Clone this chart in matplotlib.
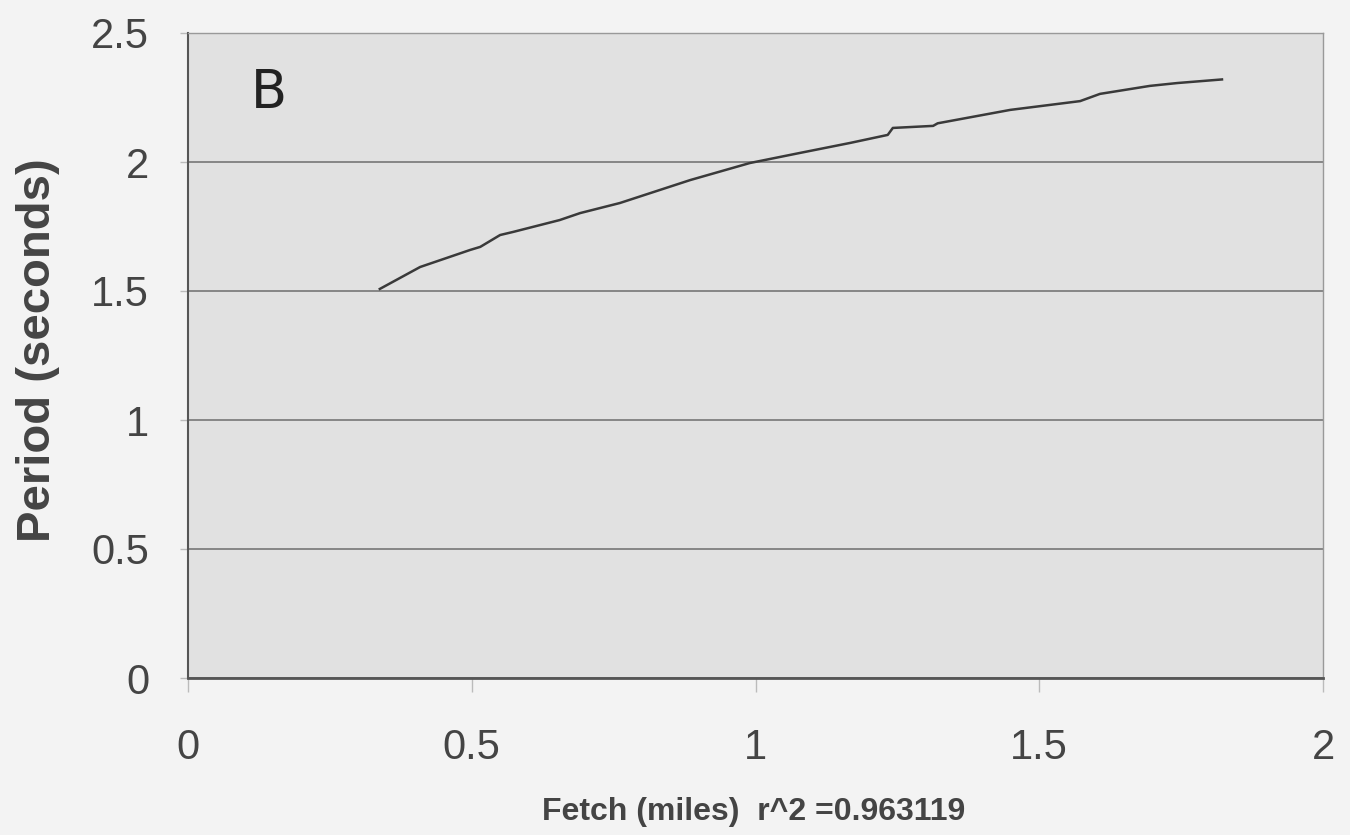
import matplotlib
matplotlib.use("Agg")
import matplotlib.pyplot as plt

# Fetch (miles) vs wave period (seconds)
fetch = [0.338, 0.409, 0.497, 0.515, 0.550, 0.573, 0.655, 0.691, 0.761, 0.885,
         0.99, 1.078, 1.167, 1.233, 1.242, 1.313, 1.321, 1.449, 1.572, 1.607,
         1.695, 1.743, 1.822]
period = [1.508, 1.593, 1.659, 1.671, 1.717, 1.729, 1.775, 1.802, 1.841, 1.93,
          1.996, 2.035, 2.074, 2.105, 2.132, 2.140, 2.150, 2.202, 2.236, 2.264,
          2.295, 2.306, 2.320]

xticks = [0, 0.5, 1, 1.5, 2]
yticks = [0, 0.5, 1, 1.5, 2, 2.5]

plt.rcParams['font.family'] = ['Liberation Sans', 'DejaVu Sans']

fig = plt.figure(figsize=(13.5, 8.35), dpi=100)
fig.patch.set_facecolor('#f3f3f3')
ax = fig.add_axes([188 / 1350, 1 - 678 / 835, 1135 / 1350, 645 / 835])
ax.set_facecolor('#e1e1e1')

ax.plot(fetch, period, color='#3a3a3a', lw=1.8)

ax.set_xlim(0, 2)
ax.set_ylim(0, 2.5)
ax.set_xticks(xticks)
ax.set_yticks(yticks)
ax.set_xticklabels([f"{t:g}" for t in xticks], fontsize=30, color='#444444')
ax.set_yticklabels([f"{t:g}" for t in yticks], fontsize=30, color='#444444')
ax.yaxis.grid(True, color='#777777', lw=1.2)
ax.set_axisbelow(True)
ax.tick_params(axis='x', direction='out', length=10, width=1, color='#bbbbbb', pad=26)
ax.tick_params(axis='y', direction='out', length=6, width=1, color='#bbbbbb', pad=22)

for side in ['top', 'right']:
    ax.spines[side].set_color('#999999')
    ax.spines[side].set_linewidth(1)
ax.spines['left'].set_color('#555555')
ax.spines['left'].set_linewidth(1.5)
ax.spines['bottom'].set_color('#555555')
ax.spines['bottom'].set_linewidth(2)

ax.set_ylabel('Period (seconds)', fontsize=34, fontweight='bold', color='#444444')
ax.yaxis.set_label_coords(-0.113, 0.508)
fig.text(754 / 1350, 1 - 812 / 835, 'Fetch (miles)  r^2 =0.963119', fontsize=23,
         fontweight='bold', color='#444444', ha='center', va='center')

ax.text(0.11, 2.21, 'B', fontsize=38, color='#222222', family=['DejaVu Sans'])

fig.savefig('out.png', dpi=100, facecolor=fig.get_facecolor())
